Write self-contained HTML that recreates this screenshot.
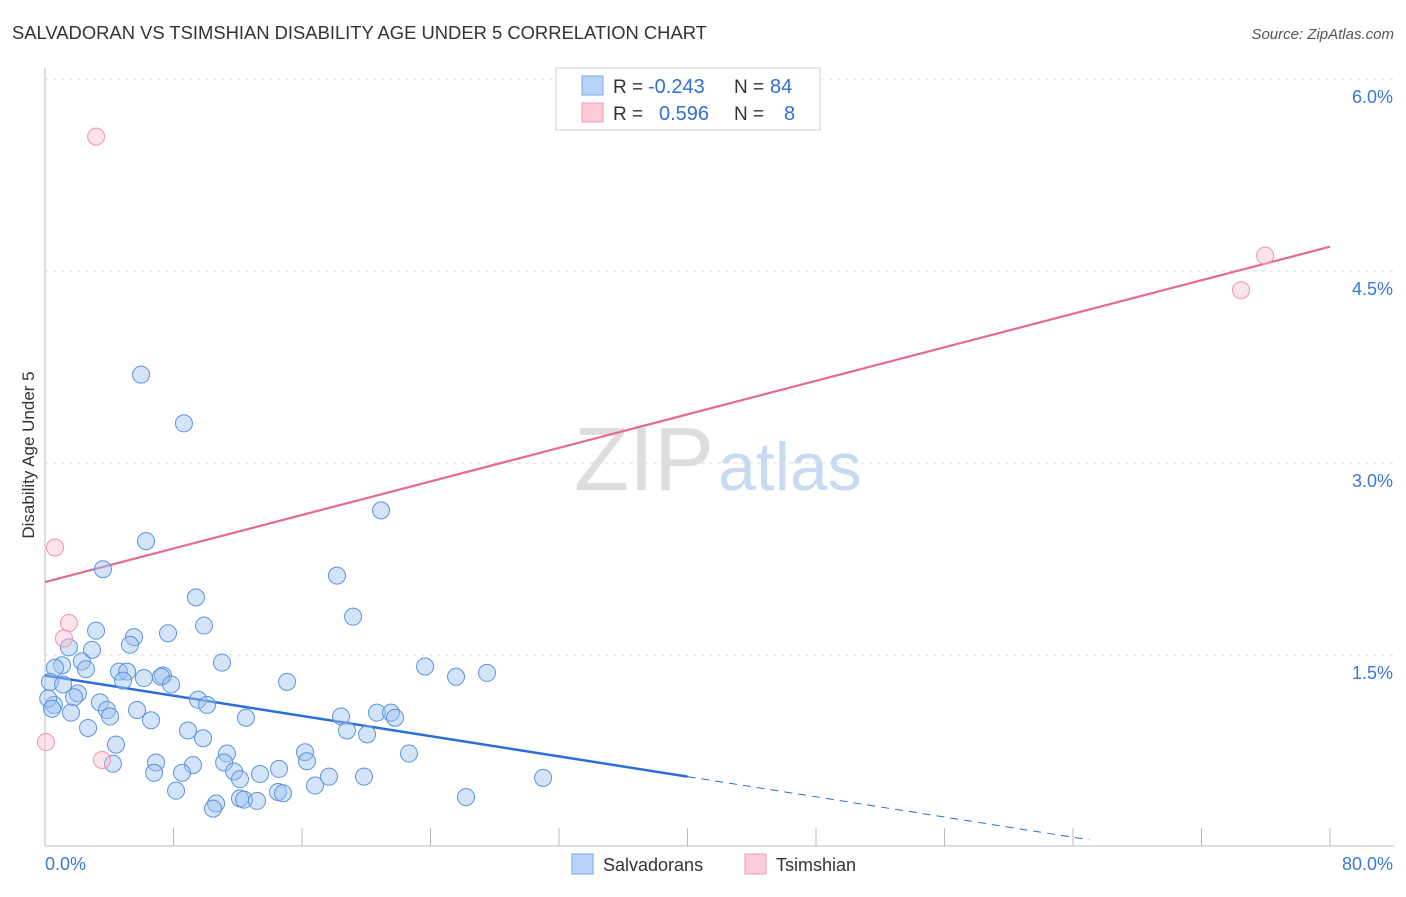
<!DOCTYPE html>
<html><head><meta charset="utf-8"><style>
body{margin:0;background:#fff;font-family:"Liberation Sans",sans-serif;}
svg text{font-family:"Liberation Sans",sans-serif;}
</style></head><body>
<svg id="chart" width="1406" height="892">
<text x="12" y="39" font-size="18.4" fill="#333">SALVADORAN VS TSIMSHIAN DISABILITY AGE UNDER 5 CORRELATION CHART</text>
<text x="1394" y="39" font-size="15" fill="#555" font-style="italic" text-anchor="end">Source: ZipAtlas.com</text>
<text x="714" y="490" font-size="90" fill="#ddd" text-anchor="end" font-family="Liberation Serif">ZIP</text>
<text x="718" y="490" font-size="68" fill="#c8daf2">atlas</text>
<text transform="translate(34,455) rotate(-90)" font-size="17" fill="#333" text-anchor="middle">Disability Age Under 5</text>
<g id="grid"></g><g id="axes"></g><g id="lines"></g><g id="pts"></g>
<g>
<rect x="556" y="68" width="264" height="62" fill="#fff" stroke="#ccc"/>
<rect x="582" y="76" width="21" height="19" fill="#b8d3f5" stroke="#7aa8e6"/>
<rect x="582" y="103" width="21" height="19" fill="#fbcdd9" stroke="#f09ab0"/>
<text x="613" y="93" font-size="19" fill="#333">R =</text>
<text x="648" y="93" font-size="20" fill="#2f6fd6">-0.243</text>
<text x="734" y="93" font-size="19" fill="#333">N =</text>
<text x="770" y="93" font-size="20" fill="#2f6fd6">84</text>
<text x="613" y="120" font-size="19" fill="#333">R =</text>
<text x="659" y="120" font-size="20" fill="#2f6fd6">0.596</text>
<text x="734" y="120" font-size="19" fill="#333">N =</text>
<text x="784" y="120" font-size="20" fill="#2f6fd6">8</text>
</g>
<g>
<rect x="572" y="854" width="21" height="20" fill="#b8d3f5" stroke="#7aa8e6"/>
<text x="603" y="871" font-size="18" fill="#333">Salvadorans</text>
<rect x="745" y="854" width="21" height="20" fill="#fbcdd9" stroke="#f09ab0"/>
<text x="776" y="871" font-size="18" fill="#333">Tsimshian</text>
</g>
</svg>
<script>
const blueX=[5.98,8.65,6.29,3.61,20.92,18.18,9.40,19.18,3.18,9.90,7.66,5.54,5.29,1.49,2.93,11.02,23.66,27.52,25.59,2.30,1.06,0.62,2.55,4.61,5.11,7.35,7.22,6.16,4.86,7.85,15.07,0.31,1.12,2.05,1.81,0.56,9.53,10.09,3.42,3.86,4.05,5.73,1.62,6.60,12.51,18.43,20.67,21.54,21.79,18.80,20.05,2.68,8.90,9.84,4.42,22.66,16.19,11.33,6.91,4.23,11.15,16.31,9.21,6.79,8.53,11.77,14.57,13.39,12.14,17.68,19.86,31.01,8.16,16.81,14.51,14.82,10.65,10.46,12.14,12.39,13.20,26.21,0.2,0.44];
const blueY=[3.69,3.31,2.39,2.17,2.63,2.12,1.95,1.80,1.69,1.73,1.67,1.64,1.58,1.56,1.54,1.44,1.41,1.36,1.33,1.45,1.42,1.40,1.39,1.37,1.37,1.34,1.33,1.32,1.30,1.27,1.29,1.29,1.27,1.20,1.17,1.11,1.15,1.11,1.13,1.07,1.02,1.07,1.05,0.99,1.01,1.02,1.05,1.05,1.01,0.91,0.88,0.93,0.91,0.85,0.80,0.73,0.74,0.73,0.66,0.65,0.66,0.67,0.64,0.58,0.58,0.59,0.61,0.57,0.53,0.55,0.55,0.54,0.44,0.48,0.43,0.42,0.34,0.30,0.38,0.37,0.36,0.39,1.16,1.08];
const pinkX=[3.18,75.96,74.46,0.62,1.49,1.18,0.06,3.55];
const pinkY=[5.55,4.62,4.35,2.34,1.75,1.63,0.82,0.68];
const yTicks=[1.5,3.0,4.5,6.0];
const xTickLabels=["0.0%","80.0%"];
const blueFit=[1.34,0.55];
const pinkFit=[2.07,4.69];
const NS="http://www.w3.org/2000/svg";
const sx=v=>45+v*1285/80, sy=v=>847-v*128;
function mk(p,t,a){const e=document.createElementNS(NS,t);for(const k in a)e.setAttribute(k,a[k]);document.getElementById(p).appendChild(e);return e;}
yTicks.forEach(t=>{
 const l=mk('grid','line',{x1:45,x2:1394,y1:sy(t),y2:sy(t),stroke:'#ddd','stroke-dasharray':'4,4'});
 
 
 const tx=mk('grid','text',{x:1393,y:sy(t)+24,'font-size':18,fill:'#3a78d8','text-anchor':'end'});
 tx.textContent=t.toFixed(1)+'%';
 
 
});
const ax=mk('axes','line',{x1:45,x2:45,y1:68,y2:846,stroke:'#bbb'});


const bx=mk('axes','line',{x1:45,x2:1394,y1:846,y2:846,stroke:'#bbb'});


for(let i=0;i<=10;i++){const t=mk('axes','line',{x1:sx(i*8),x2:sx(i*8),y1:828,y2:846,stroke:'#bbb'});
 
 }
const xl0=mk('axes','text',{x:45,y:870,'font-size':18,fill:'#3a78d8'});xl0.textContent=xTickLabels[0];


const xl1=mk('axes','text',{x:1393,y:870,'font-size':18,fill:'#3a78d8','text-anchor':'end'});xl1.textContent=xTickLabels[1];


const slope=(blueFit[1]-blueFit[0])/40, xz=-blueFit[0]/slope, xe=Math.min(65,xz);
const bl=mk('lines','line',{x1:sx(0),y1:sy(blueFit[0]),x2:sx(40),y2:sy(blueFit[1]),stroke:'#2a6fd8','stroke-width':2.5});


const bd=mk('lines','line',{x1:sx(40),y1:sy(blueFit[1]),x2:sx(xe),y2:sy(blueFit[0]+slope*xe),stroke:'#2a6fd8','stroke-width':1,'stroke-dasharray':'8,6'});


const pl=mk('lines','line',{x1:sx(0),y1:sy(pinkFit[0]),x2:sx(80),y2:sy(pinkFit[1]),stroke:'#e56a90','stroke-width':2.2});


blueX.forEach((x,i)=>{const c=mk('pts','circle',{cx:sx(x),cy:sy(blueY[i]),r:8.5,fill:'rgba(160,196,240,0.45)',stroke:'#5b93de','stroke-width':1});
 
 });
pinkX.forEach((x,i)=>{const c=mk('pts','circle',{cx:sx(x),cy:sy(pinkY[i]),r:8.5,fill:'rgba(248,190,208,0.45)',stroke:'#ee94ae','stroke-width':1});
 
 });
</script>
</body></html>
